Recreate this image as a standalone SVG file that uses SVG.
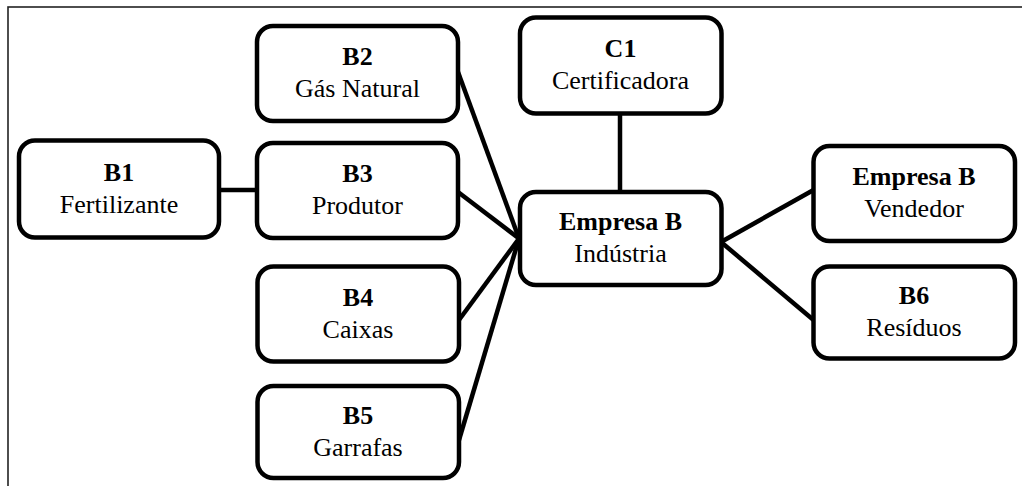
<svg xmlns="http://www.w3.org/2000/svg" width="1022" height="486" viewBox="0 0 1022 486">
  <style>
    .frame { fill: #ffffff; stroke: #222222; stroke-width: 1.6; }
    .box { fill: #ffffff; stroke: #000000; stroke-width: 4.5; }
    .link { stroke: #000000; stroke-width: 4.5; fill: none; }
    text { font-family: "Liberation Serif", "Times New Roman", serif; font-size: 26px; fill: #000000; text-anchor: middle; }
    .code { font-weight: bold; }
  </style>

  <rect x="0" y="0" width="1022" height="486" fill="#ffffff"/>
  <!-- outer border (open at right and bottom) -->
  <rect class="frame" x="8" y="7" width="1030" height="500"/>

  <!-- connectors -->
  <g id="connectors">
    <line class="link" x1="219" y1="190" x2="257" y2="190"/>
    <line class="link" x1="620" y1="113.5" x2="620" y2="192"/>
    <line class="link" x1="458" y1="72" x2="519" y2="238.5"/>
    <line class="link" x1="458" y1="192" x2="519" y2="238.5"/>
    <line class="link" x1="459" y1="320" x2="519" y2="238.5"/>
    <line class="link" x1="459" y1="440" x2="519" y2="238.5"/>
    <line class="link" x1="721" y1="242" x2="813.5" y2="190"/>
    <line class="link" x1="721" y1="242" x2="813.5" y2="320"/>
  </g>

  <g id="b1">
    <rect class="box" x="19" y="140.5" width="200" height="97" rx="16"/>
    <text class="code" x="119" y="180.5">B1</text>
    <text x="119" y="212.5">Fertilizante</text>
  </g>

  <g id="b2">
    <rect class="box" x="257" y="26" width="201" height="95" rx="16"/>
    <text class="code" x="357.5" y="65">B2</text>
    <text x="357.5" y="97">Gás Natural</text>
  </g>

  <g id="b3">
    <rect class="box" x="257" y="143" width="201" height="95" rx="16"/>
    <text class="code" x="357.5" y="182">B3</text>
    <text x="357.5" y="214">Produtor</text>
  </g>

  <g id="b4">
    <rect class="box" x="257.5" y="266.5" width="201.5" height="95" rx="16"/>
    <text class="code" x="358" y="305.5">B4</text>
    <text x="358" y="337.5">Caixas</text>
  </g>

  <g id="b5">
    <rect class="box" x="257.5" y="386" width="201.5" height="92" rx="16"/>
    <text class="code" x="358" y="423.5">B5</text>
    <text x="358" y="455.5">Garrafas</text>
  </g>

  <g id="c1">
    <rect class="box" x="520" y="17.5" width="201.5" height="96" rx="16"/>
    <text class="code" x="620.5" y="57">C1</text>
    <text x="620.5" y="89">Certificadora</text>
  </g>

  <g id="industria">
    <rect class="box" x="520" y="192" width="201.5" height="93" rx="16"/>
    <text class="code" x="620.5" y="230">Empresa B</text>
    <text x="620.5" y="262">Indústria</text>
  </g>

  <g id="vendedor">
    <rect class="box" x="813.5" y="146" width="201.5" height="95" rx="16"/>
    <text class="code" x="914" y="185">Empresa B</text>
    <text x="914" y="217">Vendedor</text>
  </g>

  <g id="b6">
    <rect class="box" x="813.5" y="266.5" width="201.5" height="92" rx="16"/>
    <text class="code" x="914" y="304">B6</text>
    <text x="914" y="336">Resíduos</text>
  </g>
</svg>
